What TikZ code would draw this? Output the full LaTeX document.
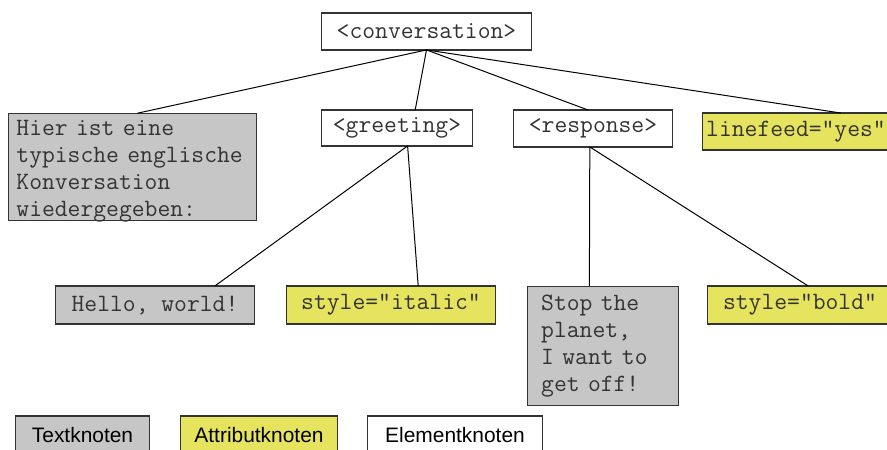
\documentclass[tikz,border=0pt]{standalone}
\usepackage{fontspec}
\setmainfont{Liberation Sans}
\usetikzlibrary{calc}
\definecolor{txtfill}{HTML}{C6C6C6}
\definecolor{attfill}{HTML}{E6E45F}
\definecolor{edge}{HTML}{333333}
\definecolor{ink}{HTML}{333333}
\begin{document}
\begin{tikzpicture}[x=1bp,y=-1bp,
  box/.style={draw=edge, line width=1.2bp, rectangle, inner sep=0pt, outer sep=0pt,
    font=\ttfamily\fontsize{25}{27}\selectfont, text=ink},
  elem/.style={box, fill=white},
  textn/.style={box, fill=txtfill},
  attr/.style={box, fill=attfill},
  bodytext/.style={inner sep=0pt, align=left, text=ink,
    font=\ttfamily\fontsize{25}{27}\selectfont},
  link/.style={draw=black, line width=1bp},
  legendbox/.style={draw=edge, line width=1.2bp, rectangle, inner sep=0pt,
    font=\fontsize{21}{25}\selectfont, text=black}
]
\useasboundingbox (0,0) rectangle (887,450);
\clip (0,0) rectangle (887,450);

% tree nodes
\node[elem, minimum width=211, minimum height=37] (conv) at (426.5,31.5) {<conversation>};
\node[textn, minimum width=249, minimum height=108] (hier) at (132.5,167) {};
\node[bodytext, text width=236] (hiertext) at ($(hier.center)+(1.5,4)$)
  {Hier ist eine\\typische englische\\Konversation\\wiedergegeben:};
\node[elem, minimum width=152, minimum height=36] (greet) at (397,128) {<greeting>};
\node[elem, minimum width=160, minimum height=37] (resp) at (593,128.5) {<response>};
\node[attr, minimum width=188, minimum height=37] (feed) at (796,131.5) {linefeed="yes"};

\node[textn, minimum width=200, minimum height=38] (hello) at (155,305) {Hello, world!};
\node[attr, minimum width=210, minimum height=38] (italic) at (391,305) {style="italic"};
\node[textn, minimum width=152, minimum height=120] (stop) at (603,346) {};
\node[bodytext, text width=124] (stoptext) at ($(stop.center)+(0,0)$)
  {Stop the\\planet,\\I want to\\get off!};
\node[attr, minimum width=186, minimum height=38] (bold) at (800,305) {style="bold"};

% connectors
\draw[link] (conv.south) -- ($(hier.north west)!0.52!(hier.north east)$);
\draw[link] (conv.south) -- ($(greet.north west)!0.62!(greet.north east)$);
\draw[link] (conv.south) -- ($(resp.north west)!0.47!(resp.north east)$);
\draw[link] (conv.south) -- ($(feed.north west)!0.74!(feed.north east)$);
\draw[link] ($(greet.south west)!0.57!(greet.south east)$) -- ($(hello.north west)!0.8!(hello.north east)$);
\draw[link] ($(greet.south west)!0.57!(greet.south east)$) -- ($(italic.north west)!0.63!(italic.north east)$);
\draw[link] ($(resp.south west)!0.48!(resp.south east)$) -- ($(stop.north west)!0.41!(stop.north east)$);
\draw[link] ($(resp.south west)!0.48!(resp.south east)$) -- ($(bold.north west)!0.545!(bold.north east)$);

% legend
\node[legendbox, fill=txtfill, minimum width=135, minimum height=38] (lgtext) at (82.5,435) {Textknoten};
\node[legendbox, fill=attfill, minimum width=158, minimum height=38] (lgattr) at (259,435) {Attributknoten};
\node[legendbox, fill=white, minimum width=176, minimum height=38] (lgelem) at (455,435) {Elementknoten};
\end{tikzpicture}
\end{document}
